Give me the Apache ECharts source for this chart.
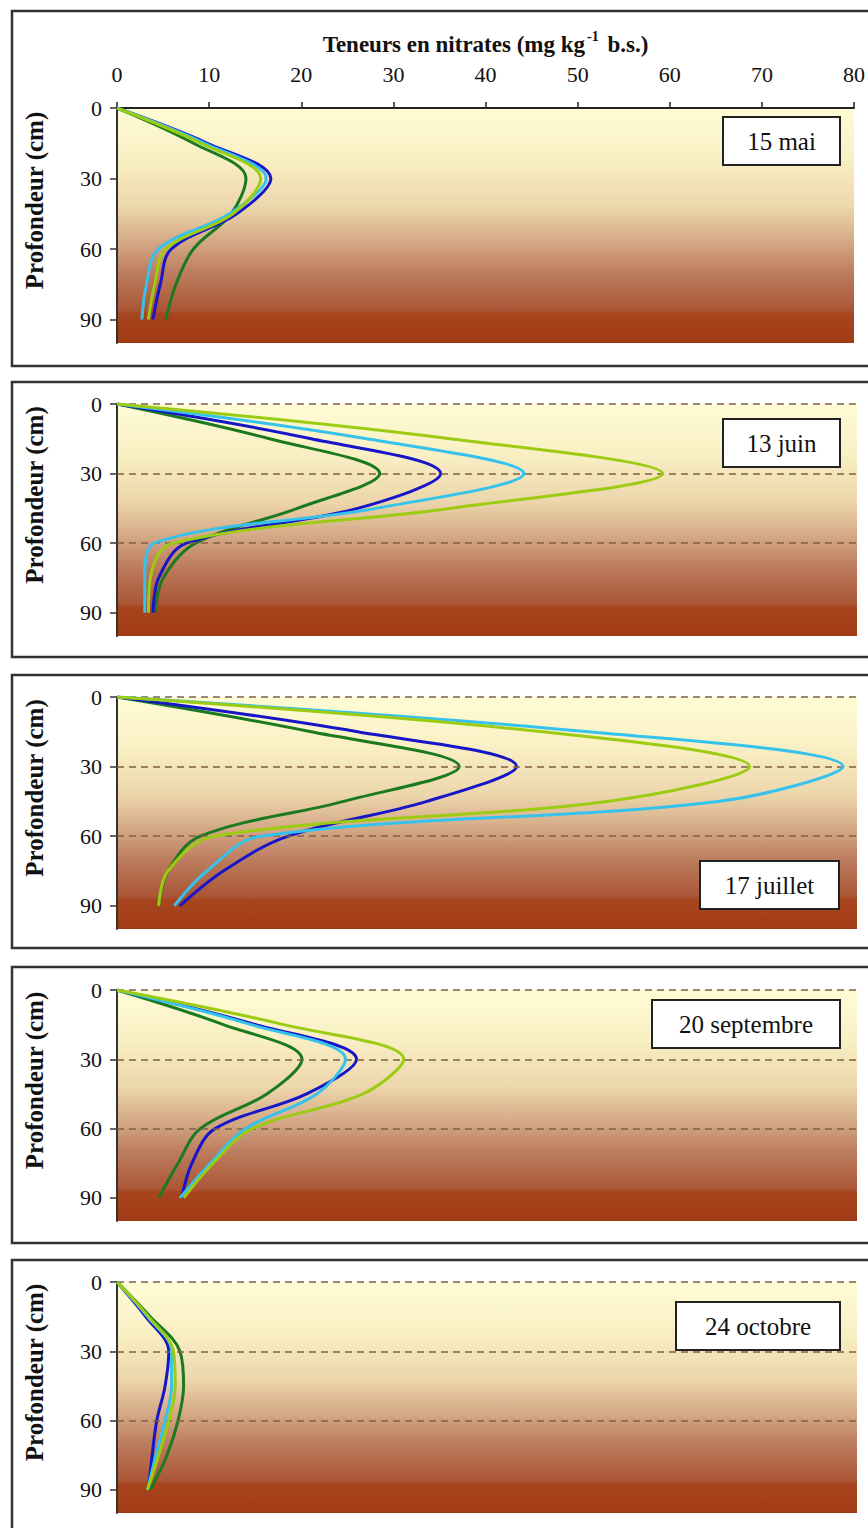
<!DOCTYPE html>
<html><head><meta charset="utf-8">
<script src="https://cdn.jsdelivr.net/npm/echarts@6/dist/echarts.min.js"></script>
<style>html,body{margin:0;padding:0;background:#fff}#c{width:868px;height:1528px}</style>
</head><body><div id="c"></div>
<script>
// ---- data ----
const depths = [0, 15, 30, 45, 60, 75, 90];
const xTicks = [0, 10, 20, 30, 40, 50, 60, 70, 80];
const yTicks = [0, 30, 60, 90];
const gridDepths = [0, 30, 60];
const dates = ['15 mai', '13 juin', '17 juillet', '20 septembre', '24 octobre'];
// one row per date (panel); values read at depths 0/15/30/45/60/75/90 cm
const darkGreen = [
  [0, 8.3, 14.0, 12.4, 8.3, 6.4, 5.3],
  [0, 16.5, 28.4, 19.5, 8.5, 5.0, 4.1],
  [0, 21.0, 37.0, 24.5, 9.0, 5.5, 4.5],
  [0, 11.5, 20.0, 16.2, 9.0, 6.6, 4.5],
  [0, 3.6, 6.8, 7.2, 6.6, 5.4, 3.6]
];
const blue = [
  [0, 9.8, 16.7, 13.0, 5.9, 4.7, 3.9],
  [0, 21.0, 35.0, 26.0, 7.5, 4.5, 3.9],
  [0, 26.0, 43.2, 33.5, 18.5, 11.5, 6.8],
  [0, 15.0, 25.9, 20.5, 10.6, 8.1, 7.0],
  [0, 3.1, 5.6, 5.2, 4.3, 3.8, 3.4]
];
const cyan = [
  [0, 9.5, 16.2, 12.2, 4.5, 3.2, 2.7],
  [0, 27.0, 44.0, 28.0, 4.0, 3.0, 3.0],
  [0, 51.0, 78.5, 65.0, 15.5, 9.7, 6.2],
  [0, 14.5, 24.7, 21.6, 13.9, 10.1, 6.8],
  [0, 3.3, 5.9, 5.9, 5.2, 4.2, 3.3]
];
const yellowGreen = [
  [0, 9.1, 15.6, 12.6, 5.3, 4.1, 3.4],
  [0, 36.0, 59.0, 36.0, 6.0, 3.6, 3.4],
  [0, 46.0, 68.4, 53.0, 10.5, 5.5, 4.5],
  [0, 18.0, 31.0, 26.6, 14.6, 10.4, 7.2],
  [0, 3.4, 6.1, 6.3, 5.6, 4.5, 3.3]
];
const xAxisTitle = 'Teneurs en nitrates (mg kg';
const yAxisTitle = 'Profondeur (cm)';

// ---- layout ----
const SERIF = "'Liberation Serif', 'Times New Roman', serif";
const panels = [
  {top: 108, bottom: 343, boxTop: 11, boxBottom: 366, lab: [723, 117, 117, 48]},
  {top: 404, bottom: 636, boxTop: 382, boxBottom: 657, lab: [723, 419, 117, 48]},
  {top: 697, bottom: 929, boxTop: 675, boxBottom: 948, lab: [700, 861, 139, 48]},
  {top: 990, bottom: 1221, boxTop: 967, boxBottom: 1243, lab: [652, 1000, 188, 48]},
  {top: 1282, bottom: 1513, boxTop: 1260, boxBottom: 1545, lab: [676, 1302, 164, 48]}
];
const seriesDefs = [
  {vals: darkGreen, color: '#1C7A1E'},
  {vals: blue, color: '#1616C8'},
  {vals: cyan, color: '#35C3EE'},
  {vals: yellowGreen, color: '#9CCB12'}
];
const bg = {type: 'linear', x: 0, y: 0, x2: 0, y2: 1, colorStops: [
  {offset: 0, color: '#FFFCD4'},
  {offset: 0.22, color: '#F9EFC4'},
  {offset: 0.42, color: '#EDD6AC'},
  {offset: 0.58, color: '#D2A583'},
  {offset: 0.70, color: '#BC7D5E'},
  {offset: 0.86, color: '#AA5636'},
  {offset: 0.875, color: '#A7451F'},
  {offset: 1, color: '#A23A15'}
]};

const grid = [], xAxis = [], yAxis = [], series = [], graphic = [];
panels.forEach((p, i) => {
  grid.push({left: 117, right: 11, top: p.top, height: p.bottom - p.top, show: true, borderWidth: 0, backgroundColor: bg});
  const xa = {gridIndex: i, type: 'value', min: 0, max: 80, interval: 10, splitLine: {show: false}};
  if (i === 0) {
    Object.assign(xa, {
      position: 'top',
      axisLine: {show: true, lineStyle: {color: '#222', width: 2}},
      axisTick: {show: true, length: 6, lineStyle: {color: '#222', width: 1.5}},
      axisLabel: {margin: 23, fontSize: 22, fontFamily: SERIF, color: '#111'},
      name: '{t|' + xAxisTitle + '}{s|-1}{t| b.s.)}',
      nameLocation: 'middle', nameGap: 52,
      nameTextStyle: {rich: {
        t: {fontFamily: SERIF, fontWeight: 'bold', fontSize: 23, color: '#111', lineHeight: 27, verticalAlign: 'bottom'},
        s: {fontFamily: SERIF, fontWeight: 'bold', fontSize: 14, color: '#111', lineHeight: 14, verticalAlign: 'top', padding: [0, 3, 0, 2]}
      }}
    });
  } else {
    Object.assign(xa, {show: false});
  }
  xAxis.push(xa);
  yAxis.push({
    gridIndex: i, type: 'value', inverse: true, min: 0, max: 100, interval: 30,
    axisLine: {show: true, onZero: false, lineStyle: {color: '#333', width: 2}},
    axisTick: {show: true, length: 7, customValues: yTicks, lineStyle: {color: '#333', width: 1.5}},
    axisLabel: {customValues: yTicks, margin: 15, fontSize: 22, fontFamily: SERIF, color: '#111'},
    splitLine: {show: false},
    name: yAxisTitle, nameLocation: 'middle', nameRotate: 90, nameGap: 70,
    nameTextStyle: {fontFamily: SERIF, fontWeight: 'bold', fontSize: 25, color: '#111', padding: [0, 0, 0, 50]}
  });
  seriesDefs.forEach((s, k) => {
    const ser = {
      type: 'line', xAxisIndex: i, yAxisIndex: i, smooth: 0.35, symbol: 'none',
      data: depths.map((d, j) => [s.vals[i][j], d]),
      lineStyle: {color: s.color, width: 3}, z: 3 + k, silent: true
    };
    if (k === 0 && i > 0) {
      ser.markLine = {silent: true, symbol: 'none', label: {show: false}, animation: false,
        lineStyle: {type: [7, 5], color: '#806048', width: 1.6},
        data: gridDepths.map(d => ({yAxis: d}))};
    }
    series.push(ser);
  });
  graphic.push({type: 'rect', z: 0, silent: true,
    shape: {x: 12, y: p.boxTop, width: 870, height: p.boxBottom - p.boxTop},
    style: {fill: 'none', stroke: '#333', lineWidth: 2.5}});
  const [lx, ly, lw, lh] = p.lab;
  graphic.push({type: 'rect', z: 20, silent: true,
    shape: {x: lx, y: ly, width: lw, height: lh},
    style: {fill: '#fff', stroke: '#222', lineWidth: 2}});
  graphic.push({type: 'text', z: 21, silent: true, x: lx + lw / 2, y: ly + lh / 2,
    style: {text: dates[i], fontSize: 25, fontFamily: SERIF, fill: '#111', align: 'center', verticalAlign: 'middle'}});
});

const chart = echarts.init(document.getElementById('c'), null, {renderer: 'svg'});
chart.setOption({animation: false, grid, xAxis, yAxis, series, graphic});
</script></body></html>
